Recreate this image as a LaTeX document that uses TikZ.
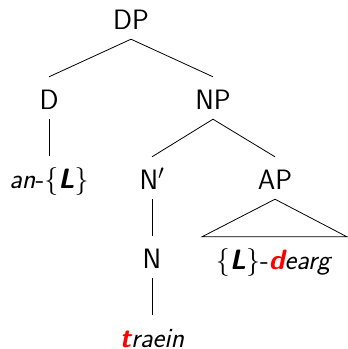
\documentclass[tikz,border=0pt]{standalone}
\usetikzlibrary{calc}
\begin{document}
\begin{tikzpicture}[x=1pt,y=-1pt,
  lbl/.style={font=\fontsize{28}{34}\selectfont\sffamily, anchor=base,
    text height=22pt, text depth=0pt, inner xsep=0pt, inner ysep=10pt},
  leaf/.style={lbl, text height=31pt, inner ysep=1pt},
  edge/.style={line width=0.8pt}]
\useasboundingbox (0,0) rectangle (348,349);
\node[lbl] (DP) at (131,29) {DP};
\node[lbl] (D) at (49,109) {D};
\node[lbl] (NP) at (213,109) {NP};
\node[lbl] (an) at (49,188) {\textit{an}-\{\textbf{\textit{L}}\}};
\node[lbl] (Nbar) at (152,189) {N$'$};
\node[lbl] (AP) at (275,189) {AP};
\node[lbl] (N) at (152,268) {N};
\node[lbl] (dearg) at (274,269) {\{\textbf{\textit{L}}\}-\textit{\textcolor{red}{\textbf{d}}earg}};
\node[leaf] (traein) at (152,347) {\textit{\textcolor{red}{\textbf{t}}raein}};
\coordinate (bl) at ([xshift=-72pt]dearg.north);
\coordinate (br) at ([xshift=73pt]dearg.north);
\draw[edge] (D.north) -- (DP.south) -- (NP.north);
\draw[edge] (D.south) -- (an.north);
\draw[edge] (Nbar.north) -- (NP.south) -- (AP.north);
\draw[edge] (Nbar.south) -- (N.north);
\draw[edge] (N.south) -- (traein.north);
\draw[edge] (AP.south) -- (bl) -- (br) -- cycle;
\end{tikzpicture}
\end{document}
